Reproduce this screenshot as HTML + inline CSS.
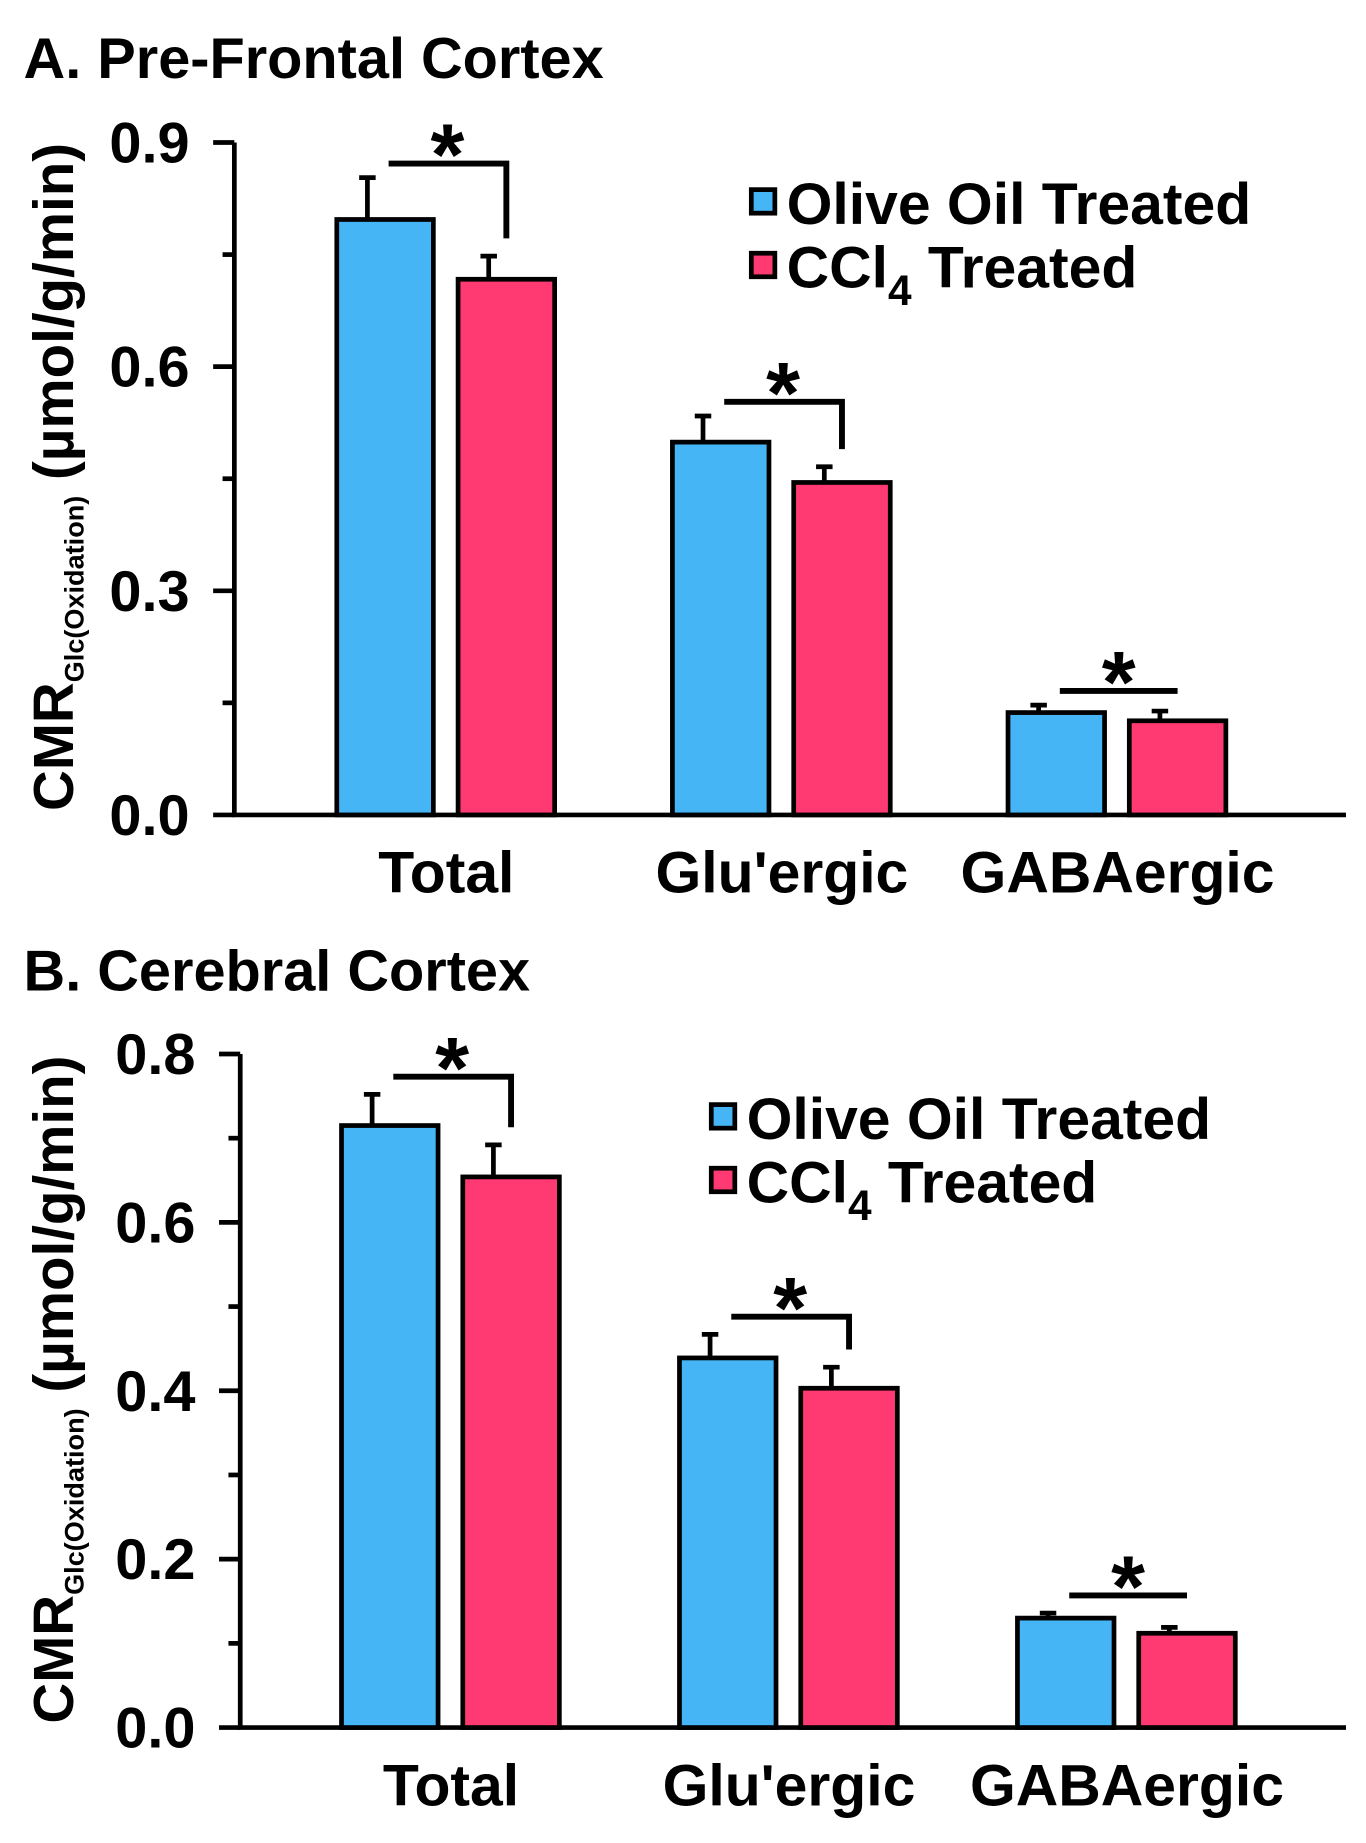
<!DOCTYPE html>
<html><head><meta charset="utf-8"><style>
html,body{margin:0;padding:0;background:#fff;}
svg{display:block;font-family:"Liberation Sans",Arial,sans-serif;font-weight:bold;}
</style></head><body>
<svg id="fig" width="1366" height="1843" viewBox="0 0 1160 1565" xmlns="http://www.w3.org/2000/svg"></svg>
<script>
const categories = ["Total", "Glu'ergic", "GABAergic"];
const seriesNames = ["Olive Oil Treated", "CCl4 Treated"];
const aOlive = [0.797, 0.499, 0.137];
const aOliveErr = [0.853, 0.534, 0.147];
const aCcl4 = [0.717, 0.445, 0.126];
const aCcl4Err = [0.748, 0.466, 0.139];
const aTicks = ["0.0", "0.3", "0.6", "0.9"];
const bOlive = [0.715, 0.439, 0.130];
const bOliveErr = [0.752, 0.467, 0.136];
const bCcl4 = [0.654, 0.403, 0.112];
const bCcl4Err = [0.692, 0.428, 0.119];
const bTicks = ["0.0", "0.2", "0.4", "0.6", "0.8"];

const NS = "http://www.w3.org/2000/svg";
const svg = document.getElementById("fig");
function mk(tag, attrs, parent, txt) {
  const e = document.createElementNS(NS, tag);
  for (const k in attrs) e.setAttribute(k, attrs[k]);
  if (txt !== undefined) e.textContent = txt;
  (parent || svg).appendChild(e);
  return e;
}
const COL = ["#45b5f5", "#ff3a72"];

function panel(cfg) {
  const g = mk("g", {});
  
  
  const y = v => cfg.y0 - (v / cfg.max) * (cfg.y0 - cfg.yTop);
  const t = mk("text", {x: 20, y: cfg.titleY, "font-size": 49}, g, cfg.title);
  
  
  const ax = mk("path", {d: `M${cfg.ax} ${cfg.yTop} V${cfg.y0} H1143`, stroke: "#000", "stroke-width": 4, fill: "none"}, g);
  
  
  const maxTick = parseFloat(cfg.ticks[cfg.ticks.length - 1]);
  const step = maxTick / (cfg.ticks.length - 1);
  for (let i = 0; i < (cfg.ticks.length - 1) * 2 + 1; i++) {
    const v = i * step / 2;
    const major = i % 2 === 0;
    mk("line", {x1: cfg.ax - (major ? 18 : 10), x2: cfg.ax, y1: y(v), y2: y(v), stroke: "#000", "stroke-width": 4}, g);
  }
  cfg.ticks.forEach(lbl => {
    const tl = mk("text", {x: cfg.ax - 38, y: y(parseFloat(lbl)) + 17, "font-size": 49, "text-anchor": "end"}, g, lbl);
    
    
  });
  const yt = mk("text", {transform: `translate(62,${cfg.ytY}) rotate(-90)`, "font-size": 48, "text-anchor": "middle"}, g);
  
  
  mk("tspan", {}, yt, "CMR");
  mk("tspan", {"font-size": 23, dy: 9}, yt, "Glc(Oxidation)");
  mk("tspan", {dy: -9}, yt, " (µmol/g/min)");
  const vals = [cfg.olive, cfg.ccl4], errs = [cfg.oliveErr, cfg.ccl4Err];
  categories.forEach((c, ci) => {
    const gx = cfg.x0 + ci * cfg.gap;
    const xs = [gx, gx + 103];
    for (let s = 0; s < 2; s++) {
      const x = xs[s], w = 82, cx = x + w / 2 - 15;
      const top = y(vals[s][ci]), et = y(errs[s][ci]);
      const eb = mk("path", {d: `M${cx} ${top} V${et} M${cx - 7} ${et} H${cx + 7}`, stroke: "#000", "stroke-width": 4, fill: "none"}, g);
      
      
      const r = mk("rect", {x: x, y: top, width: w, height: cfg.y0 - top, fill: COL[s], stroke: "#000", "stroke-width": 4}, g);
      
      
    }
    const bx1 = xs[0] + 44, bx2 = xs[1] + 41;
    const by = Math.min(y(errs[0][ci]), y(errs[1][ci])) - cfg.bOff;
    let d = `M${bx1} ${by} H${bx2}`;
    if (ci < 2) d += ` V${y(errs[1][ci]) - 15}`;
    const br = mk("path", {d: d, stroke: "#000", "stroke-width": 5, fill: "none"}, g);
    
    
    const st = mk("text", {x: (bx1 + bx2) / 2, y: by + 18, "font-size": 74, "text-anchor": "middle"}, g, "*");
    
    
    const xl = mk("text", {x: gx + 93, y: cfg.y0 + 66, "font-size": 50, "text-anchor": "middle"}, g, c);
    
    
  });
  seriesNames.forEach((n, i) => {
    const ly = cfg.legY + i * 54;
    const sq = mk("rect", {x: cfg.legX, y: ly, width: 20, height: 20, fill: COL[i], stroke: "#000", "stroke-width": 4}, g);
    
    
    const lt = mk("text", {x: cfg.legX + 30, y: ly + 29, "font-size": 50}, g);
    
    
    if (i === 0) lt.textContent = n;
    else { mk("tspan", {}, lt, "CCl"); mk("tspan", {"font-size": 36, dy: 15}, lt, "4"); mk("tspan", {dy: -15}, lt, " Treated"); }
  });
}

panel({name: "panel-a-prefrontal", title: "A. Pre-Frontal Cortex", titleY: 66, ax: 199, yTop: 121, y0: 692, max: 0.9,
  ticks: aTicks, olive: aOlive, oliveErr: aOliveErr, ccl4: aCcl4, ccl4Err: aCcl4Err,
  x0: 286, gap: 285, bOff: 12, legX: 638, legY: 161, ytY: 405});
panel({name: "panel-b-cerebral", title: "B. Cerebral Cortex", titleY: 841, ax: 204, yTop: 895, y0: 1467, max: 0.8,
  ticks: bTicks, olive: bOlive, oliveErr: bOliveErr, ccl4: bCcl4, ccl4Err: bCcl4Err,
  x0: 290, gap: 287, bOff: 15, legX: 604, legY: 938, ytY: 1180});
</script>
</body></html>
